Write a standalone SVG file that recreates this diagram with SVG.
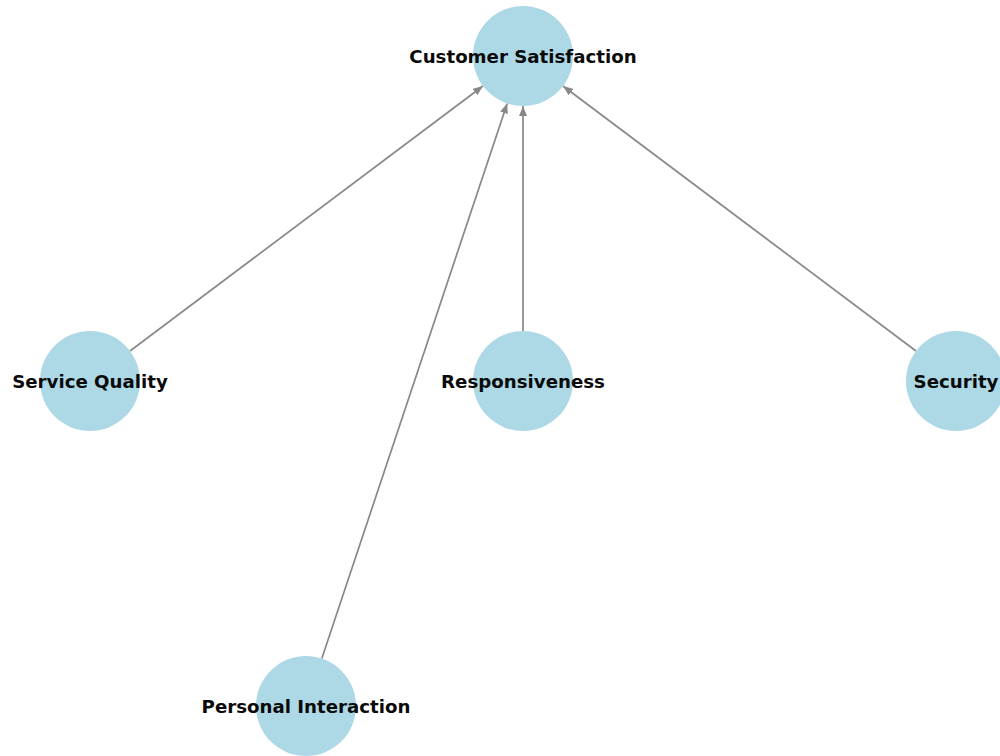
<svg xmlns="http://www.w3.org/2000/svg" width="1000" height="756" viewBox="0 0 1000 756">
<style>
.node{fill:#ADD8E6}
.lbl{font-family:"DejaVu Sans",sans-serif;font-weight:bold;font-size:18.2px;fill:#0a0a0a;text-anchor:middle;dominant-baseline:central}
.edge{stroke:#888;stroke-width:1.7;fill:none;marker-end:url(#ah)}
</style>
<defs>
<marker id="ah" viewBox="0 0 10 8" refX="10" refY="4" markerWidth="10" markerHeight="8" markerUnits="userSpaceOnUse" orient="auto">
<path d="M0,0 L10,4 L0,8 Z" fill="#888"/>
</marker>
</defs>
<rect width="1000" height="756" fill="#fff"/>
<g id="connectors">
<line class="edge" x1="130" y1="351" x2="483" y2="86"/>
<line class="edge" x1="321.8" y1="658.6" x2="507.2" y2="103.4"/>
<line class="edge" x1="523" y1="331" x2="523" y2="106"/>
<line class="edge" x1="916" y1="351" x2="563" y2="86"/>
</g>
<g id="customer-satisfaction"><circle class="node" cx="523" cy="56" r="50"/><text class="lbl" x="523" y="56">Customer Satisfaction</text></g>
<g id="service-quality"><circle class="node" cx="90" cy="381" r="50"/><text class="lbl" x="90" y="381">Service Quality</text></g>
<g id="responsiveness"><circle class="node" cx="523" cy="381" r="50"/><text class="lbl" x="523" y="381">Responsiveness</text></g>
<g id="security"><circle class="node" cx="956" cy="381" r="50"/><text class="lbl" x="956" y="381">Security</text></g>
<g id="personal-interaction"><circle class="node" cx="306" cy="706" r="50"/><text class="lbl" x="306" y="706">Personal Interaction</text></g>
</svg>
